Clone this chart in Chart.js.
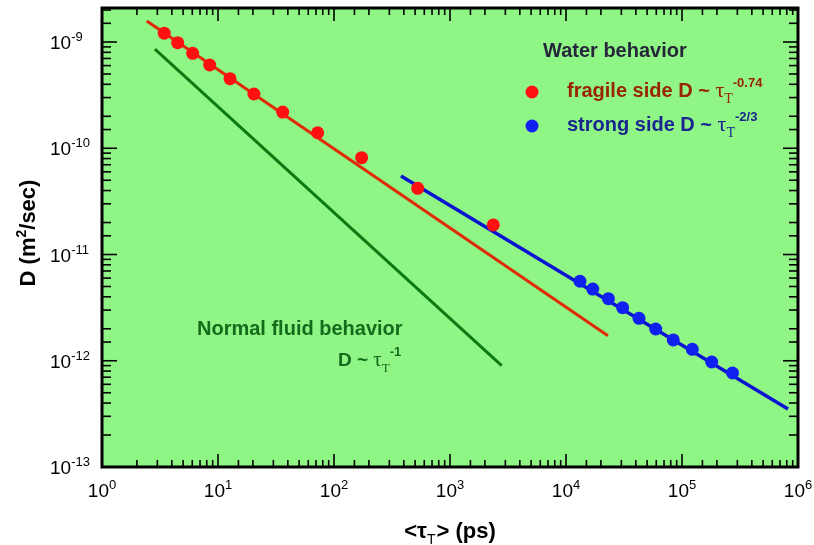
<!DOCTYPE html>
<html>
<head>
<meta charset="utf-8">
<script src="https://cdn.jsdelivr.net/npm/chart.js@4.4.0/dist/chart.umd.min.js"></script>
<style>
  html, body { margin: 0; padding: 0; background: #fff; }
</style>
</head>
<body>
<canvas id="diffChart" width="814" height="545"></canvas>
<script>
// measured points (tau in ps, D in m^2/sec)
const fragileTau = [3.44, 4.49, 6.05, 8.48, 12.7, 20.4, 36.1, 72.3, 173, 527, 2362];
const fragileD = [1.21e-9, 9.85e-10, 7.83e-10, 6.08e-10, 4.52e-10, 3.24e-10, 2.19e-10, 1.40e-10, 8.15e-11, 4.20e-11, 1.90e-11];
const strongTau = [13200, 17000, 23200, 30800, 42600, 59300, 84100, 122700, 180300, 272500];
const strongD = [5.60e-12, 4.73e-12, 3.84e-12, 3.16e-12, 2.51e-12, 1.99e-12, 1.57e-12, 1.28e-12, 9.73e-13, 7.67e-13];

// fitted power-law lines (end points)
const fragileFitTau = [2.43, 23000];
const fragileFitD = [1.58e-9, 1.72e-12];
const strongFitTau = [378, 820000];
const strongFitD = [5.48e-11, 3.52e-13];
const normalFitTau = [2.86, 2790];
const normalFitD = [8.59e-10, 8.98e-13];

// axis decades
const xTickPowers = [0, 1, 2, 3, 4, 5, 6];
const yTickPowers = [-13, -12, -11, -10, -9];

const toPoints = (xs, ys) => xs.map((v, i) => ({ x: v, y: ys[i] }));
const isPow = v => Math.abs(Math.log10(v) - Math.round(Math.log10(v))) < 1e-6;

const SANS = '"Liberation Sans", Arial, sans-serif';
const SERIF = '"Liberation Serif", "Times New Roman", serif';

// draw a row of text pieces, each with its own font / vertical shift
function runsWidth(ctx, runs) {
  let w = 0;
  runs.forEach(r => { ctx.font = r.font; w += ctx.measureText(r.text).width + (r.gap || 0); });
  return w;
}
function drawRuns(ctx, x, y, runs, color) {
  ctx.textAlign = 'left';
  ctx.textBaseline = 'alphabetic';
  runs.forEach(r => {
    ctx.font = r.font;
    ctx.fillStyle = r.color || color;
    ctx.fillText(r.text, x, y + (r.dy || 0));
    x += ctx.measureText(r.text).width + (r.gap || 0);
  });
}
const powRuns = (p) => [
  { text: '10', font: '19px ' + SANS },
  { text: String(p), font: '13px ' + SANS, dy: -8 }
];
const tauT = (size, exp, color) => [
  { text: 'τ', font: size + 'px ' + SERIF, color },
  { text: 'T', font: Math.round(size * 0.62) + 'px ' + SERIF, dy: 6, color },
  { text: exp, font: 'bold ' + Math.round(size * 0.6) + 'px ' + SANS, dy: -10, color }
];

const paperPlugin = {
  id: 'paper',
  beforeDraw(chart) {
    const { ctx, chartArea: a } = chart;
    ctx.save();
    ctx.fillStyle = '#ffffff';
    ctx.fillRect(0, 0, chart.width, chart.height);
    ctx.fillStyle = '#8ff585';
    ctx.fillRect(a.left, a.top, a.right - a.left, a.bottom - a.top);
    ctx.restore();
  },
  afterDraw(chart) {
    const { ctx, chartArea: a, scales: { x, y } } = chart;
    ctx.save();
    ctx.strokeStyle = '#000';
    ctx.lineWidth = 1.6;
    const seg = (x1, y1, x2, y2) => { ctx.beginPath(); ctx.moveTo(x1, y1); ctx.lineTo(x2, y2); ctx.stroke(); };

    // inward ticks on all four sides
    x.ticks.forEach(t => {
      const px = x.getPixelForValue(t.value);
      if (px <= a.left + 1 || px >= a.right - 1) return;
      const len = isPow(t.value) ? 13 : 7;
      seg(px, a.bottom, px, a.bottom - len);
      seg(px, a.top, px, a.top + len);
    });
    y.ticks.forEach(t => {
      const py = y.getPixelForValue(t.value);
      if (py <= a.top + 1 || py >= a.bottom - 1) return;
      const len = isPow(t.value) ? 15 : 9;
      seg(a.left, py, a.left + len, py);
      seg(a.right, py, a.right - len, py);
    });

    ctx.lineWidth = 3;
    ctx.strokeRect(a.left, a.top, a.right - a.left, a.bottom - a.top);

    // tick labels
    xTickPowers.forEach(p => {
      const px = x.getPixelForValue(Math.pow(10, p));
      const runs = powRuns(p);
      drawRuns(ctx, px - runsWidth(ctx, runs) / 2, a.bottom + 30, runs, '#000');
    });
    yTickPowers.forEach(p => {
      const py = y.getPixelForValue(Math.pow(10, p));
      drawRuns(ctx, 50, py + 7, powRuns(p), '#000');
    });

    // axis titles
    const xt = [
      { text: '<τ', font: 'bold 22px ' + SANS },
      { text: 'T', font: '14px ' + SANS, dy: 6, gap: 1 },
      { text: '> (ps)', font: 'bold 22px ' + SANS }
    ];
    drawRuns(ctx, (a.left + a.right) / 2 - runsWidth(ctx, xt) / 2, 538, xt, '#000');

    const yt = [
      { text: 'D (m', font: 'bold 22px ' + SANS },
      { text: '2', font: 'bold 14px ' + SANS, dy: -9 },
      { text: '/sec)', font: 'bold 22px ' + SANS }
    ];
    ctx.save();
    ctx.translate(35, 233);
    ctx.rotate(-Math.PI / 2);
    drawRuns(ctx, -runsWidth(ctx, yt) / 2, 0, yt, '#000');
    ctx.restore();

    // annotations
    drawRuns(ctx, a.left + 441, 57, [{ text: 'Water behavior', font: 'bold 20px ' + SANS }], '#26263a');

    ctx.fillStyle = '#ff1010';
    ctx.beginPath(); ctx.arc(a.left + 430, 92, 6.5, 0, Math.PI * 2); ctx.fill();
    ctx.fillStyle = '#1020ee';
    ctx.beginPath(); ctx.arc(a.left + 430, 126, 6.5, 0, Math.PI * 2); ctx.fill();

    const fragColor = '#9a2300';
    drawRuns(ctx, a.left + 465, 97,
      [{ text: 'fragile side D ~ ', font: 'bold 20px ' + SANS }].concat(tauT(22, '-0.74', fragColor)), fragColor);
    const strongColor = '#1a2590';
    drawRuns(ctx, a.left + 465, 131,
      [{ text: 'strong side D ~ ', font: 'bold 20px ' + SANS }].concat(tauT(22, '-2/3', strongColor)), strongColor);

    const normColor = '#156b1c';
    drawRuns(ctx, a.left + 95, 335, [{ text: 'Normal fluid behavior', font: 'bold 20px ' + SANS }], normColor);
    drawRuns(ctx, a.left + 236, 366,
      [{ text: 'D ~ ', font: 'bold 19px ' + SANS }].concat(tauT(21, '-1', normColor)), normColor);

    ctx.restore();
  }
};

const lineSet = (label, xs, ys, color, width) => ({
  label, data: toPoints(xs, ys), showLine: true, borderColor: color, borderWidth: width,
  pointRadius: 0, fill: false, order: 2
});
const dotSet = (label, xs, ys, color) => ({
  label, data: toPoints(xs, ys), showLine: false, backgroundColor: color, borderColor: color,
  borderWidth: 0, pointRadius: 6.5, order: 1
});

new Chart(document.getElementById('diffChart').getContext('2d'), {
  type: 'scatter',
  data: {
    datasets: [
      lineSet('Normal fluid D ~ tau^-1', normalFitTau, normalFitD, '#0c7a12', 3),
      lineSet('fragile fit', fragileFitTau, fragileFitD, '#e02a08', 3),
      lineSet('strong fit', strongFitTau, strongFitD, '#0a14d0', 3.5),
      dotSet('fragile side', fragileTau, fragileD, '#ff1010'),
      dotSet('strong side', strongTau, strongD, '#1020ee')
    ]
  },
  options: {
    responsive: false,
    animation: false,
    devicePixelRatio: 1,
    layout: { padding: { top: 8, right: 16, left: 0, bottom: 0 } },
    plugins: { legend: { display: false }, tooltip: { enabled: false } },
    scales: {
      x: {
        type: 'logarithmic', min: 1, max: 1e6,
        grid: { display: false }, border: { display: false },
        ticks: { display: false },
        afterFit: s => { s.height = 78; }
      },
      y: {
        type: 'logarithmic', min: 1e-13, max: 2.09e-9,
        grid: { display: false }, border: { display: false },
        ticks: { display: false },
        afterFit: s => { s.width = 102; }
      }
    }
  },
  plugins: [paperPlugin]
});
</script>
</body>
</html>
